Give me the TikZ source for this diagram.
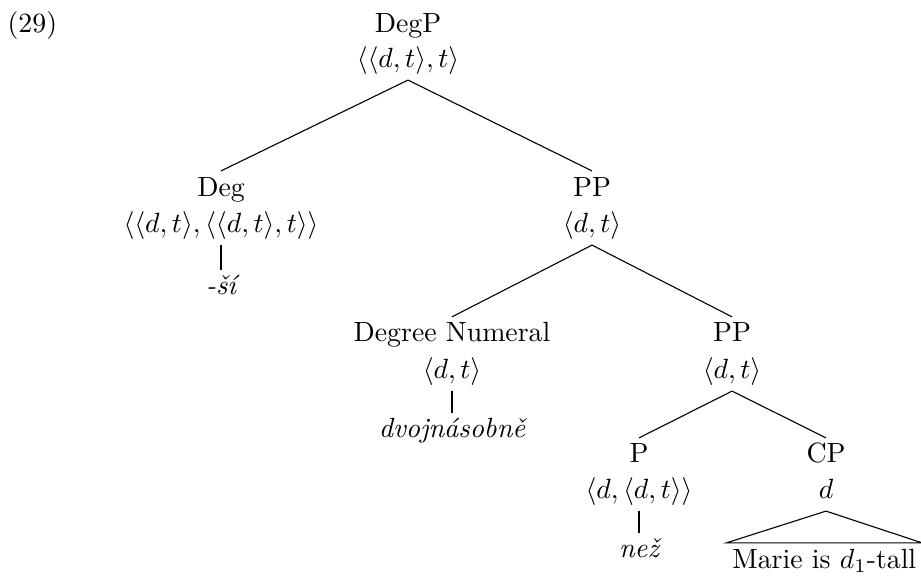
\documentclass[tikz,border=0pt]{standalone}
\usepackage{fontspec}
\begin{document}
\begin{tikzpicture}[
  lab/.style={anchor=base,inner sep=2pt,text height=6.83pt},
  typ/.style={anchor=base,inner sep=2pt,text height=7.5pt,text depth=2.5pt},
  leaf/.style={anchor=base,inner sep=2pt,text height=6.9pt,font=\itshape}]
\useasboundingbox (0,0) rectangle (11.643,-7.294);
\node[anchor=base west,inner sep=0] (ex) at (0.09,-0.405) {(29)};
% root
\node[lab] (degp) at (5.158,-0.405) {DegP};
\node[typ] (degpT) at (5.158,-0.847) {$\langle\langle d,t\rangle,t\rangle$};
% first level
\node[lab] (deg) at (2.794,-2.478) {Deg};
\node[typ] (degT) at (2.794,-2.933) {$\langle\langle d,t\rangle,\langle\langle d,t\rangle,t\rangle\rangle$};
\node[leaf] (shi) at (2.794,-3.729) {-ší};
\node[lab] (pp) at (7.484,-2.478) {PP};
\node[typ] (ppT) at (7.484,-2.933) {$\langle d,t\rangle$};
% second level
\node[lab] (num) at (5.714,-4.323) {Degree Numeral};
\node[typ] (numT) at (5.714,-4.779) {$\langle d,t\rangle$};
\node[leaf] (dvoj) at (5.714,-5.537) {dvojnásobně};
\node[lab] (pp2) at (9.254,-4.323) {PP};
\node[typ] (pp2T) at (9.254,-4.779) {$\langle d,t\rangle$};
% third level
\node[lab] (p) at (8.078,-5.853) {P};
\node[typ] (pT) at (8.078,-6.296) {$\langle d,\langle d,t\rangle\rangle$};
\node[leaf] (nez) at (8.078,-7.054) {než};
\node[lab] (cp) at (10.442,-5.853) {CP};
\node[typ] (cpT) at (10.442,-6.296) {$d$};
\node[anchor=base,inner sep=2pt,text height=6.83pt] (marie) at (10.42,-7.181) {Marie is $d_1$-tall};
% branches
\draw (degpT.south) -- (deg.north);
\draw (degpT.south) -- (pp.north);
\draw (degT.south) -- (shi.north);
\draw (ppT.south) -- (num.north);
\draw (ppT.south) -- (pp2.north);
\draw (numT.south) -- (dvoj.north);
\draw (pp2T.south) -- (p.north);
\draw (pp2T.south) -- (cp.north);
\draw (pT.south) -- (nez.north);
\draw (cpT.south) -- (marie.north west) -- (marie.north east) -- cycle;
\end{tikzpicture}
\end{document}
